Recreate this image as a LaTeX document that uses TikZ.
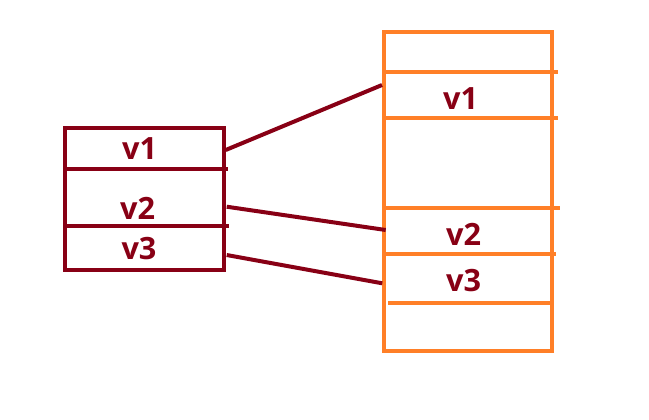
\documentclass[tikz,border=0pt]{standalone}
\usepackage{fontspec}
\setmainfont{Open Sans}
\definecolor{dred}{HTML}{880015}
\definecolor{paintorange}{HTML}{FF7F27}
\begin{document}
\begin{tikzpicture}[x=0.75pt,y=-0.75pt,
  redline/.style={draw=dred,line width=3pt},
  orline/.style={draw=paintorange,line width=3pt},
  lbl/.style={text=dred,font=\bfseries\fontsize{23}{26}\selectfont,anchor=base,inner sep=0pt}]
\useasboundingbox (0,0) rectangle (649,419);
% left box
\draw[redline] (65,128) rectangle (224,270);
\draw[redline] (65,169.3) -- (227.5,169.3);
\draw[redline] (65,226.3) -- (228.5,226.3);
\node[lbl] (lv1) at (139.7,159.3) {v1};
\node[lbl] (lv2) at (137.7,219.3) {v2};
\node[lbl] (lv3) at (139,259.3) {v3};
% right box
\draw[orline] (383.7,32) rectangle (552,350.5);
\draw[orline] (383.7,72.3) -- (558.3,72.3);
\draw[orline] (383.7,118.3) -- (558,118.3);
\draw[orline] (383.7,208.3) -- (560,208.3);
\draw[orline] (383.7,254.3) -- (556,254.3);
\draw[orline] (388.3,303.3) -- (552,303.3);
\node[lbl] (rv1) at (460.7,109.3) {v1};
\node[lbl] (rv2) at (463.7,245) {v2};
\node[lbl] (rv3) at (463.7,291.7) {v3};
% connector ends
\coordinate (a1) at (225.7,150);
\coordinate (b1) at (382,85);
\coordinate (a2) at (226.7,206.7);
\coordinate (b2) at (385.7,230);
\coordinate (a3) at (226.7,255);
\coordinate (b3) at (382.3,283.3);
\draw[redline] (a1) -- (b1);
\draw[redline] (a2) -- (b2);
\draw[redline] (a3) -- (b3);
\end{tikzpicture}
\end{document}
